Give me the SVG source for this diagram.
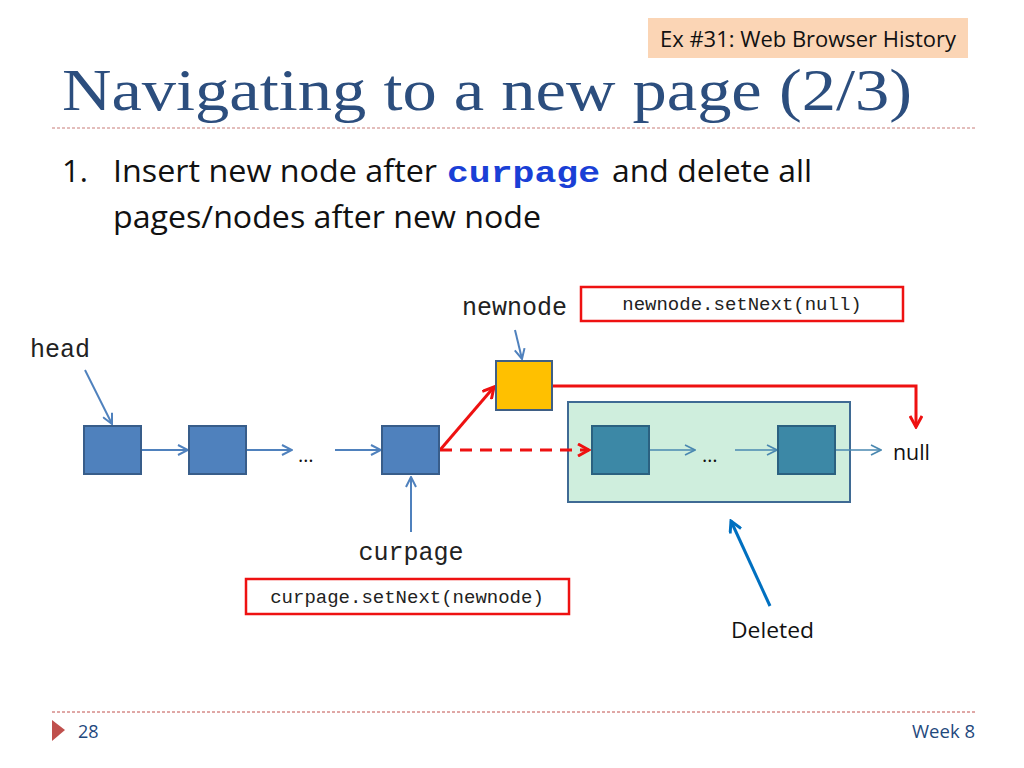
<svg xmlns="http://www.w3.org/2000/svg" width="1024" height="768" viewBox="0 0 1024 768">
<defs>
<style>
.node{fill:#4F81BD;stroke:#385D8A;stroke-width:2}
.dnode{fill:#3C88A6;stroke:#2B6180;stroke-width:2}
.blue{stroke:#4F81BD;stroke-width:2;fill:none}
.thin{stroke:#4A88B0;stroke-width:1.5;fill:none}
.red{stroke:#EE1111;stroke-width:3;fill:none}
.mono{font-family:"Liberation Mono","Courier New",monospace;fill:#222}
.sans{font-family:"Open Sans","Liberation Sans",sans-serif}
.code{fill:#fff;stroke:#EE1111;stroke-width:2.5}
</style>
<marker id="ab" viewBox="0 0 12 12" refX="11" refY="6" markerWidth="12" markerHeight="12" markerUnits="userSpaceOnUse" orient="auto"><path d="M1,1 L11,6 L1,11" fill="none" stroke="#4F81BD" stroke-width="2"/></marker>
<marker id="at" viewBox="0 0 12 12" refX="11" refY="6" markerWidth="12" markerHeight="12" markerUnits="userSpaceOnUse" orient="auto"><path d="M1,1 L11,6 L1,11" fill="none" stroke="#4A88B0" stroke-width="1.6"/></marker>
<marker id="ar" viewBox="0 0 14 14" refX="12" refY="7" markerWidth="14" markerHeight="14" markerUnits="userSpaceOnUse" orient="auto"><path d="M1,1 L12,7 L1,13" fill="none" stroke="#EE1111" stroke-width="3"/></marker>
<marker id="ad" viewBox="0 0 14 14" refX="12" refY="7" markerWidth="14" markerHeight="14" markerUnits="userSpaceOnUse" orient="auto"><path d="M1,1 L12,7 L1,13" fill="none" stroke="#0070C0" stroke-width="3"/></marker>
</defs>
<rect width="1024" height="768" fill="#fff"/>

<g id="tag">
<rect x="648" y="18" width="320" height="40" fill="#FBD5B5"/>
<text x="660" y="47" class="sans" font-size="21" fill="#111" textLength="296" lengthAdjust="spacingAndGlyphs">Ex #31: Web Browser History</text>
</g>

<g id="title">
<text x="62" y="110" font-family="Liberation Serif,serif" font-size="60" fill="#2C4E7E" textLength="850" lengthAdjust="spacingAndGlyphs">Navigating to a new page (2/3)</text>
<line x1="52" y1="128" x2="975" y2="128" stroke="#C87C78" stroke-width="1" stroke-dasharray="3,2"/>
</g>

<g id="bullet" class="sans" font-size="31" fill="#111">
<text x="62" y="182">1.</text>
<text x="113" y="182" textLength="324" lengthAdjust="spacingAndGlyphs">Insert new node after</text>
<text x="447" y="182" font-family="Liberation Mono,monospace" font-weight="bold" fill="#1A3FD6" font-size="29" textLength="153" lengthAdjust="spacingAndGlyphs">curpage</text>
<text x="612" y="182" textLength="200" lengthAdjust="spacingAndGlyphs">and delete all</text>
<text x="113" y="228" textLength="428" lengthAdjust="spacingAndGlyphs">pages/nodes after new node</text>
</g>

<g id="deleted-box">
<rect x="568" y="402" width="282" height="100" fill="#CFEEDD" stroke="#3F6A94" stroke-width="2"/>
</g>

<g id="connectors">
<line class="blue" x1="85" y1="370" x2="112" y2="424" marker-end="url(#ab)"/>
<line class="blue" x1="142" y1="450" x2="188" y2="450" marker-end="url(#ab)"/>
<line class="blue" x1="247" y1="450" x2="292" y2="450" marker-end="url(#ab)"/>
<line class="blue" x1="335" y1="450" x2="381" y2="450" marker-end="url(#ab)"/>
<line class="blue" x1="411" y1="532" x2="411" y2="477" marker-end="url(#ab)"/>
<line class="blue" x1="515" y1="330" x2="522" y2="359" marker-end="url(#ab)"/>
<line class="thin" x1="650" y1="450" x2="695" y2="450" marker-end="url(#at)"/>
<line class="thin" x1="735" y1="450" x2="777" y2="450" marker-end="url(#at)"/>
<line class="thin" x1="836" y1="450" x2="881" y2="450" marker-end="url(#at)"/>
<line class="red" x1="440" y1="450" x2="494" y2="387" marker-end="url(#ar)"/>
<line class="red" x1="440" y1="450" x2="589" y2="450" stroke-dasharray="12,8" marker-end="url(#ar)"/>
<polyline class="red" points="553,386 916,386 916,427" marker-end="url(#ar)"/>
<line x1="770" y1="606" x2="731" y2="521" stroke="#0070C0" stroke-width="3" marker-end="url(#ad)"/>
</g>

<g id="head"><text x="30" y="357" class="mono" font-size="25">head</text></g>
<g id="n1"><rect class="node" x="84" y="426" width="57" height="48"/></g>
<g id="n2"><rect class="node" x="189" y="426" width="57" height="48"/></g>
<g id="dots1"><text x="298" y="462" class="sans" font-size="20" fill="#111">…</text></g>
<g id="n3"><rect class="node" x="382" y="426" width="57" height="48"/></g>
<g id="curpage"><text x="411" y="560" class="mono" font-size="25" text-anchor="middle">curpage</text></g>
<g id="code1">
<rect class="code" x="246" y="579" width="323" height="35"/>
<text x="407" y="603" class="mono" font-size="19" text-anchor="middle">curpage.setNext(newnode)</text>
</g>
<g id="newnode-label"><text x="462" y="315" class="mono" font-size="25">newnode</text></g>
<g id="code2">
<rect class="code" x="581" y="287" width="322" height="34"/>
<text x="742" y="310" class="mono" font-size="19" text-anchor="middle">newnode.setNext(null)</text>
</g>
<g id="newnode"><rect x="496" y="361" width="56" height="49" fill="#FFC000" stroke="#3F5F85" stroke-width="2"/></g>
<g id="n4"><rect class="dnode" x="592" y="426" width="57" height="48"/></g>
<g id="dots2"><text x="702" y="462" class="sans" font-size="20" fill="#111">…</text></g>
<g id="n5"><rect class="dnode" x="778" y="426" width="57" height="48"/></g>
<g id="null"><text x="893" y="460" class="sans" font-size="22" fill="#111" textLength="37" lengthAdjust="spacingAndGlyphs">null</text></g>
<g id="deleted"><text x="731" y="638" class="sans" font-size="22" fill="#111" textLength="83" lengthAdjust="spacingAndGlyphs">Deleted</text></g>

<g id="footer">
<line x1="52" y1="712" x2="975" y2="712" stroke="#C0504D" stroke-width="1" stroke-dasharray="3,2"/>
<polygon points="52,720 65,730 52,741" fill="#C0504D"/>
<text x="78" y="738" class="sans" font-size="18" fill="#1F497D">28</text>
<text x="975" y="738" class="sans" font-size="18" fill="#1F497D" text-anchor="end" textLength="63" lengthAdjust="spacingAndGlyphs">Week 8</text>
</g>
</svg>
